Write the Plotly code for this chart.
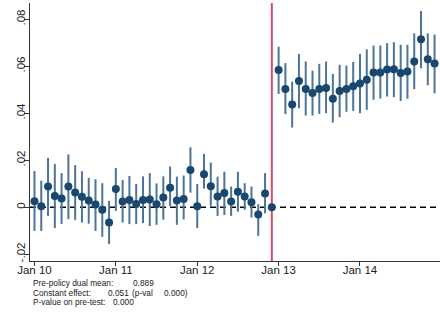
import plotly.graph_objects as go

months = list(range(60))
coef = [0.0025, 0.0004, 0.0088, 0.0048, 0.0037, 0.0088, 0.0062, 0.0044, 0.0028, 0.0011, -0.0011, -0.0065,
        0.0077, 0.0024, 0.0031, 0.0014, 0.0031, 0.0033, 0.0012, 0.0041, 0.0083, 0.0029, 0.0035, 0.0158,
        0.0004, 0.0140, 0.0089, 0.0045, 0.0060, 0.0024, 0.0066, 0.0045, 0.0021, -0.0031, 0.0058, 0.0,
        0.0584, 0.0503, 0.0437, 0.0537, 0.0503, 0.0486, 0.0503, 0.0507, 0.0462, 0.0495, 0.0503, 0.0515,
        0.0526, 0.0542, 0.0573, 0.0573, 0.0586, 0.0587, 0.0571, 0.0577, 0.0620, 0.0715, 0.0630, 0.0611]
ci_hi = [0.0154, 0.0113, 0.0210, 0.0184, 0.0145, 0.0225, 0.0179, 0.0153, 0.0125, 0.0119, 0.0102, 0.0027,
         0.0167, 0.0116, 0.0133, 0.0099, 0.0131, 0.0145, 0.0101, 0.0131, 0.0173, 0.0130, 0.0135, 0.0255,
         0.0099, 0.0227, 0.0190, 0.0130, 0.0151, 0.0088, 0.0151, 0.0102, 0.0088, 0.0013, 0.0145, 0.0,
         0.0683, 0.0613, 0.0534, 0.0652, 0.0620, 0.0581, 0.0610, 0.0620, 0.0567, 0.0606, 0.0603, 0.0618,
         0.0652, 0.0672, 0.0688, 0.0688, 0.0698, 0.0702, 0.0691, 0.0691, 0.0740, 0.0835, 0.0740, 0.0734]
ci_lo = [-0.0101, -0.0101, -0.0037, -0.0089, -0.0071, -0.0051, -0.0054, -0.0065, -0.0070, -0.0101, -0.0126, -0.0157,
         -0.0016, -0.0065, -0.0072, -0.0072, -0.0068, -0.0080, -0.0075, -0.0053, 0.0005, -0.0075, -0.0052, 0.0062,
         -0.0089, 0.0079, 0.0006, -0.0037, -0.0033, -0.0037, -0.0019, -0.0011, -0.0044, -0.0122, -0.0026, 0.0,
         0.0482, 0.0396, 0.0339, 0.0421, 0.0390, 0.0390, 0.0397, 0.0400, 0.0360, 0.0383, 0.0406, 0.0410,
         0.0400, 0.0414, 0.0457, 0.0462, 0.0471, 0.0468, 0.0452, 0.0462, 0.0502, 0.0591, 0.0519, 0.0485]

x_tickvals = [0, 12, 24, 36, 48]
x_ticktext = ["Jan 10", "Jan 11", "Jan 12", "Jan 13", "Jan 14"]
y_tickvals = [-0.02, 0, 0.02, 0.04, 0.06, 0.08]
y_ticktext = ["-.02", "0", ".02", ".04", ".06", ".08"]
policy_month = 35

notes = [
    ("Pre-policy dual mean:", 32, 283), ("0.889", 132, 283),
    ("Constant effect:", 32, 292.7), ("0.051", 107, 292.7), ("(p-val", 131, 292.7), ("0.000)", 163, 292.7),
    ("P-value on pre-test:", 32, 302.4), ("0.000", 112, 302.4),
]

err_plus = [h - c for h, c in zip(ci_hi, coef)]
err_minus = [c - l for c, l in zip(coef, ci_lo)]

FONT = "Liberation Sans, Arial, sans-serif"
L, R, T, B = 30, 0, 3, 54
W, H = 440, 315
PW, PH = W - L - R, H - T - B

fig = go.Figure()
fig.add_trace(go.Scatter(
    x=months, y=coef, mode="markers",
    marker=dict(color="#1a476f", size=8),
    error_y=dict(type="data", symmetric=False, array=err_plus, arrayminus=err_minus,
                 color="#4d7499", thickness=2, width=0),
    showlegend=False, cliponaxis=False, hoverinfo="skip",
))

fig.add_shape(type="line", xref="paper", yref="y", x0=0, x1=1, y0=0, y1=0,
              line=dict(color="black", width=1.5, dash="6px,4px"), layer="below")
fig.add_shape(type="line", xref="x", yref="paper", x0=policy_month, x1=policy_month, y0=0, y1=1,
              line=dict(color="#d64a6a", width=2), layer="below")

for txt, px, py in notes:
    fig.add_annotation(text=txt, xref="paper", yref="paper",
                       x=(px - L) / PW, y=(H - B - py) / PH,
                       xanchor="left", yanchor="middle", showarrow=False,
                       font=dict(family=FONT, size=8.3, color="#222"), borderpad=0)

fig.update_layout(
    width=W, height=H, margin=dict(l=L, r=R, t=T, b=B, pad=0, autoexpand=False),
    paper_bgcolor="white", plot_bgcolor="white",
    font=dict(family=FONT, color="#222"),
    xaxis=dict(range=[-0.66, 59.8], tickvals=x_tickvals, ticktext=x_ticktext,
               showgrid=False, zeroline=False, showline=True, linecolor="#333", linewidth=1,
               ticks="outside", ticklen=4, tickcolor="#333", tickfont=dict(size=11.5),
               ticklabelstandoff=-6),
    yaxis=dict(range=[-0.0229, 0.0869], tickvals=y_tickvals, ticktext=y_ticktext,
               showgrid=False, zeroline=False, showline=True, linecolor="#333", linewidth=1,
               ticks="outside", ticklen=5, tickcolor="#333", tickangle=-90, tickfont=dict(size=11.5),
               ticklabelstandoff=-6),
)

fig.write_html("out.html", config={"displayModeBar": False, "staticPlot": True},
               post_script="document.body.style.margin='0';document.body.style.overflow='hidden';")
